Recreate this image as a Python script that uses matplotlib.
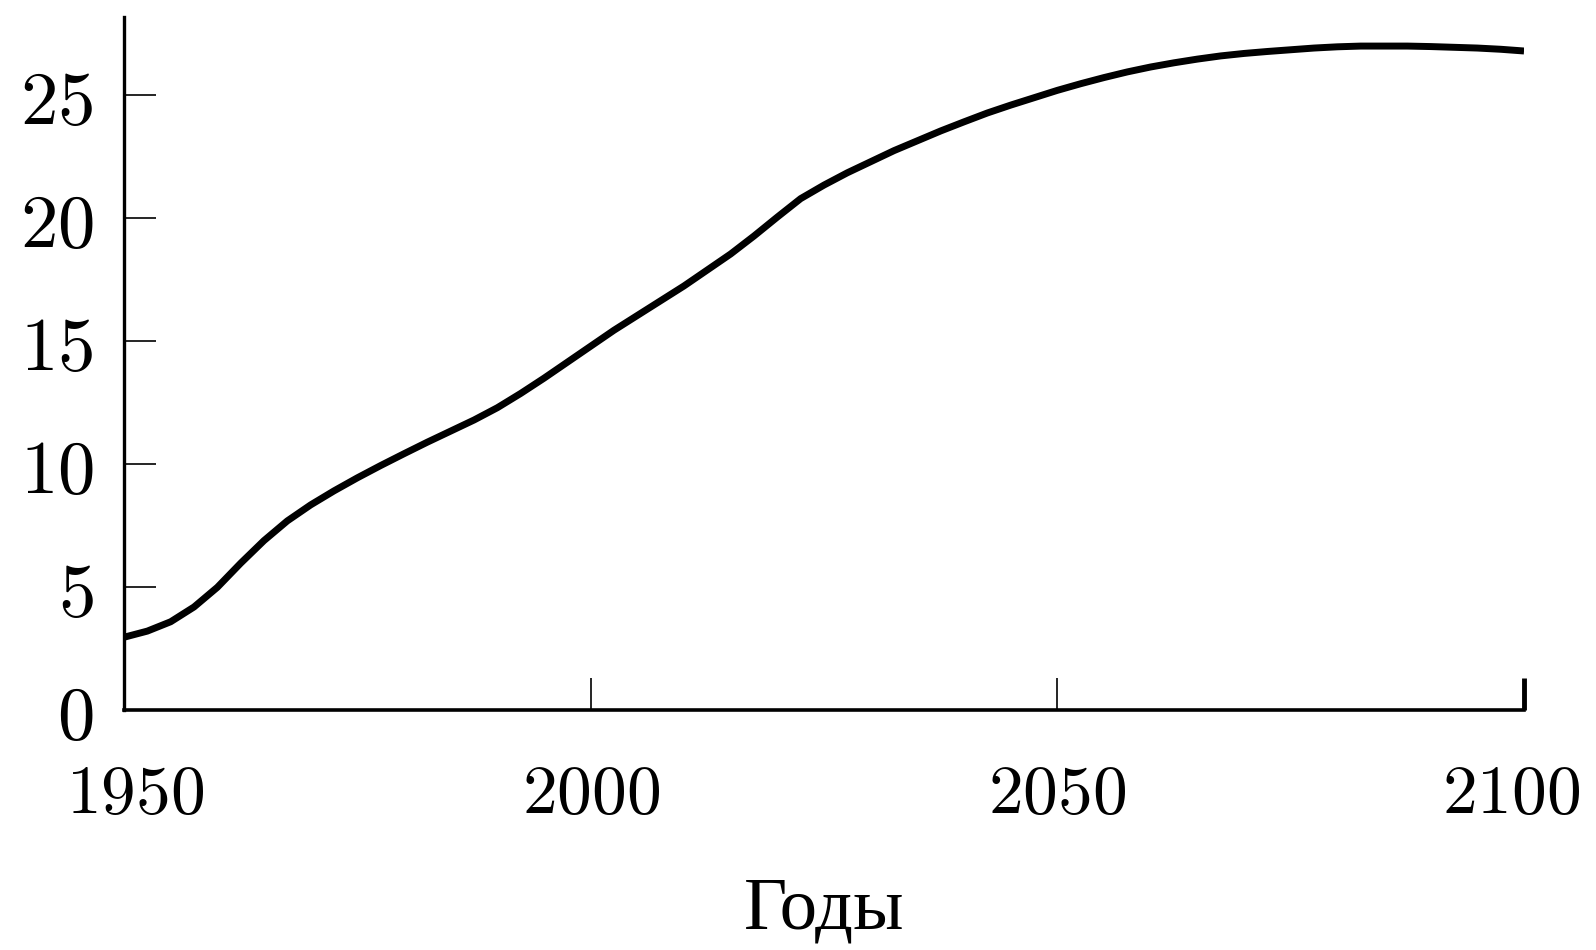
import numpy as np
import matplotlib
matplotlib.use('Agg')
import matplotlib.pyplot as plt
from matplotlib.transforms import ScaledTranslation

plt.rcParams['mathtext.fontset'] = 'cm'

years = [1950, 1952.5, 1955, 1957.5, 1960, 1962.5, 1965, 1967.5, 1970, 1972.5,
         1975, 1977.5, 1980, 1982.5, 1985, 1987.5, 1990, 1992.5, 1995, 1997.5,
         2000, 2002.5, 2005, 2007.5, 2010, 2012.5, 2015, 2017.5, 2020, 2022.5,
         2025, 2027.5, 2030, 2032.5, 2035, 2037.5, 2040, 2042.5, 2045, 2047.5,
         2050, 2052.5, 2055, 2057.5, 2060, 2062.5, 2065, 2067.5, 2070, 2072.5,
         2075, 2077.5, 2080, 2082.5, 2085, 2087.5, 2090, 2092.5, 2095, 2097.5,
         2100]
values = [2.97, 3.22, 3.6, 4.2, 5.0, 5.98, 6.9, 7.7, 8.35, 8.92,
          9.45, 9.95, 10.43, 10.9, 11.35, 11.8, 12.3, 12.88, 13.5, 14.15,
          14.8, 15.45, 16.05, 16.65, 17.25, 17.9, 18.55, 19.28, 20.05, 20.8,
          21.35, 21.85, 22.3, 22.75, 23.15, 23.55, 23.92, 24.28, 24.6, 24.9,
          25.2, 25.47, 25.72, 25.95, 26.15, 26.32, 26.47, 26.6, 26.7, 26.78,
          26.85, 26.92, 26.97, 27.0, 27.0, 27.0, 26.98, 26.95, 26.92, 26.87,
          26.8]

x_ticks = [1950, 2000, 2050, 2100]
y_ticks = [0, 5, 10, 15, 20, 25]
x_label = 'Годы'

fig = plt.figure(figsize=(15.96, 9.5), dpi=100)
ax = fig.add_axes([0.0777, 0.2523, 0.8772, 0.7295])

ax.plot(years, values, color='black', linewidth=5, solid_capstyle='butt',
        solid_joinstyle='round')

ax.set_xlim(1950, 2100)
ax.set_ylim(0, 28.17)

ax.spines['top'].set_visible(False)
ax.spines['right'].set_visible(False)
ax.spines['left'].set_linewidth(2.4)
ax.spines['bottom'].set_linewidth(2.6)

ax.set_xticks(x_ticks, labels=[f'${t}$' for t in x_ticks], fontsize=50)
ax.set_yticks(y_ticks, labels=[f'${t}$' for t in y_ticks], fontsize=54)
ax.tick_params(axis='both', direction='in', length=23, width=1.2, color='black')
ax.tick_params(axis='x', pad=36)
ax.tick_params(axis='y', pad=22)

# last x tick is drawn heavier in the original
ax.xaxis.get_major_ticks()[-1].tick1line.set_markeredgewidth(3.5)

# end labels sit a little inward
xlabels = ax.get_xticklabels()
for lab, dx in ((xlabels[0], 8), (xlabels[-1], -9)):
    lab.set_transform(lab.get_transform() + ScaledTranslation(dx / 72, 0, fig.dpi_scale_trans))

ax.set_xlabel(x_label, fontsize=54, family='Liberation Serif', labelpad=36)

fig.savefig('out.png', dpi=100)
